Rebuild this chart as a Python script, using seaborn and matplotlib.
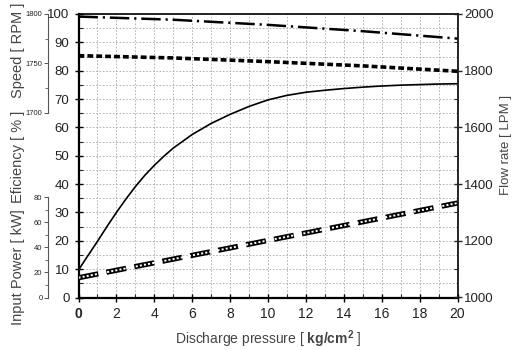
import matplotlib
matplotlib.use("Agg")
import matplotlib.pyplot as plt
import seaborn as sns
import numpy as np
from matplotlib.ticker import MultipleLocator, FixedLocator

sns.set_style("ticks")
plt.rcParams['font.family'] = ['Liberation Sans', 'DejaVu Sans']
plt.rcParams['mathtext.fontset'] = 'custom'
plt.rcParams['mathtext.rm'] = 'Liberation Sans'
plt.rcParams['mathtext.bf'] = 'Liberation Sans:bold'
plt.rcParams['lines.scale_dashes'] = False

# ---- data ----
pressure = [0, 0.5, 1, 1.5, 2, 2.5, 3, 3.5, 4, 4.5, 5, 6, 7, 8, 9, 10, 11, 12, 13, 14, 15, 16, 17, 18, 19, 20]
efficiency = [9.7, 14.8, 19.8, 25.0, 30.0, 34.7, 39.1, 43.1, 46.6, 49.8, 52.7, 57.5, 61.4, 64.6, 67.4, 69.7,
              71.3, 72.4, 73.1, 73.7, 74.2, 74.6, 74.9, 75.1, 75.3, 75.4]
pressure_c = [0, 5, 10, 15, 20]
flow_rate = [1853, 1845, 1832, 1817, 1798]          # LPM
speed = [1797.4, 1794.2, 1789.0, 1782.6, 1775.1]    # RPM
input_power = [15.8, 30.7, 45.6, 60.5, 75.5]        # kW

x_ticks = [0, 2, 4, 6, 8, 10, 12, 14, 16, 18, 20]
eff_ticks = [0, 10, 20, 30, 40, 50, 60, 70, 80, 90, 100]
flow_ticks = [1000, 1200, 1400, 1600, 1800, 2000]
speed_ticks = [1700, 1750, 1800]
power_ticks = [0, 20, 40, 60, 80]

W, H = 514, 350
fig = plt.figure(figsize=(W / 100, H / 100), dpi=100)
L, R, B, T = 78.5, 457.5, 297.5, 14
ax = fig.add_axes([L / W, 1 - B / H, (R - L) / W, (B - T) / H])

txt = '#222222'
lab = '#444444'

# main axis: efficiency
ax.set_xlim(0, 20)
ax.set_ylim(0, 100)
ax.xaxis.set_major_locator(MultipleLocator(2))
ax.xaxis.set_minor_locator(MultipleLocator(1))
ax.yaxis.set_major_locator(MultipleLocator(10))
ax.yaxis.set_minor_locator(MultipleLocator(5))
ax.grid(which='both', color='#a8a8a8', linestyle=(0, (1.2, 1.2)), linewidth=0.6)
ax.set_axisbelow(True)
for s in ax.spines.values():
    s.set_linewidth(1.2)
    s.set_color('black')
ax.spines['left'].set_linewidth(1.6)
ax.spines['bottom'].set_linewidth(1.6)
ax.tick_params(which='major', direction='inout', length=6, width=1.0, labelsize=10, colors='black', labelcolor=txt)
ax.tick_params(axis='y', which='major', labelsize=9.5)
ax.tick_params(which='minor', direction='in', length=3, width=0.8)
ax.tick_params(axis='x', which='both', top=False)
ax.set_xticks(x_ticks)
ax.set_yticks(eff_ticks)
ax.set_xticklabels([str(v) for v in x_ticks])
ax.get_xticklabels()[0].set_fontweight('bold')
ax.set_xlabel(r"Discharge pressure [ $\mathbf{kg/cm^2}$ ]", fontsize=10, color=lab, labelpad=6)
ax.set_ylabel("")

sns.lineplot(x=pressure, y=efficiency, ax=ax, color='black', linewidth=1.2)

# right axis: flow rate
axr = ax.twinx()
axr.set_ylim(1000, 2000)
axr.set_yticks(flow_ticks)
axr.yaxis.set_minor_locator(MultipleLocator(100))
axr.tick_params(which='major', direction='inout', length=6, width=1.0, labelsize=9.5, labelcolor=txt, pad=2)
axr.tick_params(which='minor', direction='in', length=3, width=0.8)
for s in axr.spines.values():
    s.set_visible(False)
sns.lineplot(x=pressure_c, y=flow_rate, ax=axr, color='black', linewidth=2.6)
axr.lines[-1].set_dashes((4.2, 2.2))
axr.set_ylabel("")

# speed axis (offset left)
axs = ax.twinx()
axs.set_ylim(1513, 1800)
axs.yaxis.set_ticks_position('left')
for k in ['top', 'right', 'bottom']:
    axs.spines[k].set_visible(False)
axs.spines['left'].set_position(('outward', 22))
axs.spines['left'].set_bounds(1700, 1800)
axs.spines['left'].set_linewidth(0.8)
axs.spines['left'].set_color('#555555')
axs.set_yticks(speed_ticks)
axs.yaxis.set_minor_locator(FixedLocator([1725, 1775]))
axs.tick_params(which='major', direction='out', length=3, width=0.7, labelsize=5.5, colors='#555555', labelcolor=txt, pad=1)
axs.tick_params(which='minor', direction='out', length=2, width=0.6, colors='#555555')
sns.lineplot(x=pressure_c, y=speed, ax=axs, color='black', linewidth=1.8)
axs.lines[-1].set_dashes((14, 3.5, 1.6, 3.5))
axs.set_ylabel("")

# power axis (offset left)
axp = ax.twinx()
axp.set_ylim(0, 226.6)
axp.yaxis.set_ticks_position('left')
for k in ['top', 'right', 'bottom']:
    axp.spines[k].set_visible(False)
axp.spines['left'].set_position(('outward', 22))
axp.spines['left'].set_bounds(0, 80)
axp.spines['left'].set_linewidth(0.8)
axp.spines['left'].set_color('#555555')
axp.set_yticks(power_ticks)
axp.yaxis.set_minor_locator(FixedLocator([10, 30, 50, 70]))
axp.tick_params(which='major', direction='out', length=3, width=0.7, labelsize=5.5, colors='#555555', labelcolor=txt, pad=1)
axp.tick_params(which='minor', direction='out', length=2, width=0.6, colors='#555555')
sns.lineplot(x=pressure_c, y=input_power, ax=axp, color='black', linewidth=3.8)
axp.lines[-1].set_dashes((14.5, 6))
axp.lines[-1].set_dash_capstyle('butt')
sns.lineplot(x=pressure_c, y=input_power, ax=axp, color='white', linewidth=1.4)
axp.lines[-1].set_dashes((1.5, 1.5))
axp.lines[-1].set_dash_capstyle('butt')
axp.set_ylabel("")

# axis titles
fig.text(18 / W, 1 - 50 / H, "Speed [ RPM ]", rotation=90, ha='center', va='center', fontsize=10.5, color=lab)
fig.text(18 / W, 1 - 157 / H, "Eficiency [ % ]", rotation=90, ha='center', va='center', fontsize=10.5, color=lab)
fig.text(18 / W, 1 - 267 / H, "Input Power [ kW]", rotation=90, ha='center', va='center', fontsize=10.5, color=lab)
fig.text(506 / W, 1 - 145 / H, "Flow rate [ LPM ]", rotation=90, ha='center', va='center', fontsize=9.5, color=lab)

fig.savefig("out.png", dpi=100)
